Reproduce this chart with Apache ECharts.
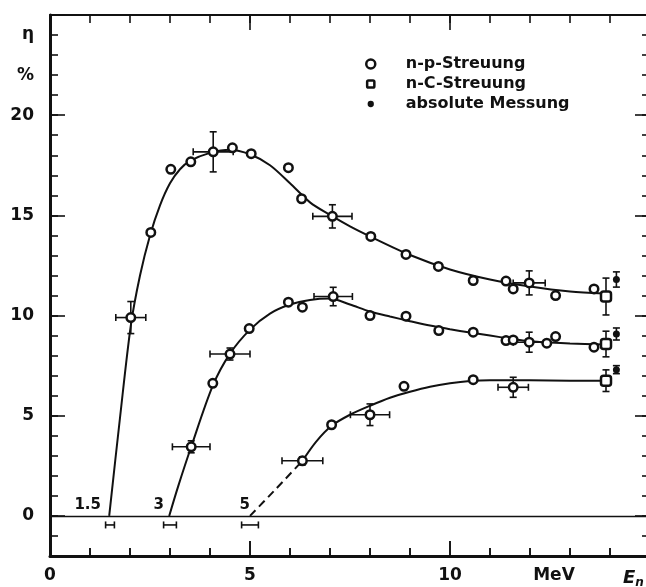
<!DOCTYPE html>
<html><head><meta charset="utf-8">
<script src="https://cdn.jsdelivr.net/npm/echarts@6/dist/echarts.min.js"></script>
<style>html,body{margin:0;padding:0;background:#fff}#c{width:646px;height:587px}</style>
</head><body><div id="c"></div>
<script>
// ---------- data ----------
// points: [E (MeV), eta (%), xErr, yErr]
const npUpper = [[2.02,9.9,0.375,0.8],[2.52,14.15,0,0],[3.02,17.3,0,0],[3.52,17.67,0,0],[4.08,18.17,0.5,1.0],[4.56,18.37,0,0],[5.03,18.08,0,0],[5.96,17.38,0,0],[6.29,15.83,0,0],[7.06,14.95,0.49,0.58],[8.02,13.95,0,0],[8.9,13.05,0,0],[9.71,12.45,0,0],[10.58,11.75,0,0],[11.4,11.72,0,0],[11.58,11.33,0,0],[11.98,11.63,0.4,0.6],[12.64,11.0,0,0],[13.6,11.33,0,0]];
const npMiddle = [[3.53,3.45,0.47,0.3],[4.07,6.62,0,0],[4.5,8.08,0.5,0.3],[4.98,9.35,0,0],[5.96,10.67,0,0],[6.31,10.42,0,0],[7.08,10.95,0.48,0.46],[8.0,10.0,0,0],[8.9,9.97,0,0],[9.72,9.25,0,0],[10.58,9.17,0,0],[11.4,8.75,0,0],[11.58,8.78,0,0],[11.98,8.67,0.4,0.5],[12.42,8.62,0,0],[12.64,8.95,0,0],[13.6,8.42,0,0]];
const npLower = [[6.31,2.75,0.51,0.2],[7.04,4.55,0,0],[8.0,5.05,0.49,0.54],[8.85,6.47,0,0],[10.58,6.8,0,0],[11.58,6.42,0.38,0.5]];
const nCPoints = [[13.9,10.95,0,0.92],[13.9,8.58,0,0.64],[13.9,6.75,0,0.54]];
const absPoints = [[14.16,11.8,0,0.38],[14.16,9.08,0,0.3],[14.16,7.3,0,0.2]];

// fitted curves
const curveUpper = [[1.48,0],[1.75,4.9],[2.02,9.5],[2.25,12.0],[2.5,14.0],[2.75,15.5],[3.0,16.6],[3.25,17.3],[3.5,17.72],[4.0,18.12],[4.5,18.28],[5.0,18.05],[5.5,17.5],[6.0,16.6],[6.5,15.65],[7.0,15.02],[7.5,14.45],[8.0,13.95],[9.0,13.02],[10.0,12.3],[11.0,11.8],[12.0,11.45],[13.0,11.2],[13.85,11.1]];
const curveMiddle = [[2.98,0],[3.2,1.45],[3.53,3.45],[4.07,6.5],[4.5,8.1],[5.0,9.3],[5.5,10.1],[6.0,10.55],[6.5,10.78],[7.0,10.85],[7.5,10.55],[8.0,10.2],[8.5,9.95],[9.0,9.72],[9.5,9.5],[10.0,9.32],[10.5,9.15],[11.0,9.0],[11.5,8.85],[12.0,8.72],[12.5,8.65],[13.0,8.6],[13.85,8.55]];
const curveLowerDashed = [[5.0,0],[5.65,1.35],[6.31,2.75]];
const curveLower = [[6.31,2.75],[6.65,3.7],[7.04,4.5],[7.5,5.05],[8.0,5.5],[8.5,5.9],[9.0,6.2],[9.5,6.45],[10.0,6.62],[10.5,6.73],[11.0,6.77],[12.0,6.77],[13.0,6.75],[13.85,6.75]];

// thresholds
const thresholds = [1.5, 3, 5];
const thresholdErr = [0.11, 0.16, 0.21];
const thresholdLabels = ['1.5', '3', '5'];
const thresholdBarY = -0.45;

// ticks / labels
const xLabelValues = [0, 5, 10, 12.6];
const xTickLabels = ['0', '5', '10', 'MeV'];
const xMajorTicks = [0, 5, 10, 15];
const xMinorTicks = [1, 2, 3, 4, 6, 7, 8, 9, 11, 12, 13, 14];
const yLabelValues = [0, 5, 10, 15, 20, 22, 24];
const yTickLabels = ['0', '5', '10', '15', '20', '%', 'η'];
const yMajorTicks = [0, 5, 10, 15, 20, 25];
const yMin = -2, yMax = 25, xMin = 0, xMax = 15;

// ---------- styling ----------
const INK = '#111';
const FONT = 'DejaVu Sans';
const thresholdLabelDx = [-9, -6, 0];
const MAJOR_LEN = 15, MINOR_LEN = 8;

function errRender(params, api) {
  const x = api.value(0), y = api.value(1), ex = api.value(2), ey = api.value(3);
  const cap = 3.5;
  const st = {stroke: INK, lineWidth: 1.6};
  const ch = [];
  if (ex > 0) {
    const a = api.coord([x - ex, y]), b = api.coord([x + ex, y]);
    ch.push({type: 'line', shape: {x1: a[0], y1: a[1], x2: b[0], y2: b[1]}, style: st});
    ch.push({type: 'line', shape: {x1: a[0], y1: a[1] - cap, x2: a[0], y2: a[1] + cap}, style: st});
    ch.push({type: 'line', shape: {x1: b[0], y1: b[1] - cap, x2: b[0], y2: b[1] + cap}, style: st});
  }
  if (ey > 0) {
    const a = api.coord([x, y + ey]), b = api.coord([x, y - ey]);
    ch.push({type: 'line', shape: {x1: a[0], y1: a[1], x2: b[0], y2: b[1]}, style: st});
    ch.push({type: 'line', shape: {x1: a[0] - cap, y1: a[1], x2: a[0] + cap, y2: a[1]}, style: st});
    ch.push({type: 'line', shape: {x1: b[0] - cap, y1: b[1], x2: b[0] + cap, y2: b[1]}, style: st});
  }
  return {type: 'group', children: ch};
}

// bottom-axis tick marks, placed through the x scale at the axis minimum
function bottomTickRender(params, api) {
  const v = api.value(0);
  const len = xMajorTicks.indexOf(v) >= 0 ? MAJOR_LEN : MINOR_LEN;
  const p = api.coord([v, yMin]);
  return {type: 'line', shape: {x1: p[0], y1: p[1], x2: p[0], y2: p[1] - len}, style: {stroke: INK, lineWidth: 1.6}};
}

const allNP = npUpper.concat(npMiddle, npLower);
const errData = allNP.concat(nCPoints, absPoints)
  .concat(thresholds.map((t, i) => [t, thresholdBarY, thresholdErr[i], 0]));
const bottomTickData = xMajorTicks.concat(xMinorTicks).map(v => [v, yMin]);
// same tick marks as mark-line segments (length expressed in axis units: 20 px per unit)
const bottomTickSegments = xMajorTicks.map(v => [{coord: [v, yMin]}, {coord: [v, yMin + MAJOR_LEN / 20]}])
  .concat(xMinorTicks.map(v => [{coord: [v, yMin]}, {coord: [v, yMin + MINOR_LEN / 20]}]));

const tickStyle = {color: INK, width: 1.6};
function minorAxis(min, max, pos, lineW, zeroIdx) {
  const ax = {
    type: 'value', min: min, max: max, interval: 1, position: pos,
    splitLine: {show: false},
    axisLine: {show: lineW > 0, onZero: zeroIdx != null, lineStyle: {color: INK, width: lineW || 1}},
    axisTick: {show: true, inside: true, length: MINOR_LEN, lineStyle: tickStyle},
    axisLabel: {show: false}
  };
  if (zeroIdx != null) ax.axisLine.onZeroAxisIndex = zeroIdx;
  return ax;
}
function majorAxis(min, max, pos, ticks, zeroIdx) {
  const ax = {
    type: 'value', min: min, max: max, position: pos,
    splitLine: {show: false},
    axisLine: {show: false, onZero: zeroIdx != null},
    axisTick: {show: true, inside: true, length: MAJOR_LEN, customValues: ticks, lineStyle: tickStyle},
    axisLabel: {show: false}
  };
  if (zeroIdx != null) ax.axisLine.onZeroAxisIndex = zeroIdx;
  return ax;
}
function helperY(min, max) {
  return {type: 'value', min: min, max: max, show: false, splitLine: {show: false}};
}

const labelFont = {fontFamily: FONT, fontWeight: 'bold', fontSize: 17, color: INK};

const xBottom = {
  type: 'value', min: xMin, max: xMax, interval: 5, position: 'bottom',
  splitLine: {show: false},
  axisLine: {show: true, onZero: false, lineStyle: {color: INK, width: 3}},
  axisTick: {show: false},
  axisLabel: {
    show: true, margin: 11, customValues: xLabelValues,
    formatter: v => xTickLabels[xLabelValues.indexOf(v)] || '',
    ...labelFont
  },
  name: '{e|E}{n|n}',
  nameLocation: 'end',
  nameGap: -27,
  nameTextStyle: {
    align: 'left', verticalAlign: 'top', padding: [11, 0, 0, 0],
    rich: {
      e: {fontFamily: FONT, fontStyle: 'italic', fontWeight: 'bold', fontSize: 18, color: INK},
      n: {fontFamily: FONT, fontStyle: 'italic', fontWeight: 'bold', fontSize: 12, color: INK, padding: [10, 0, 0, 0]}
    }
  }
};

const yLeft = minorAxis(yMin, yMax, 'left', 3);
yLeft.axisLabel = {
  show: true, margin: 16, customValues: yLabelValues,
  formatter: v => yTickLabels[yLabelValues.indexOf(v)] || '',
  ...labelFont
};

const option = {
  backgroundColor: '#fff',
  animation: false,
  grid: {left: 50, top: 15, width: 600, height: 541, containLabel: false, outerBoundsMode: 'none'},
  legend: {
    orient: 'vertical', left: 360, top: 51,
    itemWidth: 60, itemHeight: 9, itemGap: 4,
    selectedMode: false,
    textStyle: {fontFamily: FONT, fontWeight: 'bold', fontSize: 16, color: INK},
    data: [
      {name: 'n-p-Streuung', icon: 'circle', itemStyle: {color: '#fff', borderColor: INK, borderWidth: 2.5}},
      {name: 'n-C-Streuung', icon: 'path://M0,0M10,10M1,2.5A1.5,1.5,0,0,1,2.5,1H7.5A1.5,1.5,0,0,1,9,2.5V7.5A1.5,1.5,0,0,1,7.5,9H2.5A1.5,1.5,0,0,1,1,7.5Z', itemStyle: {color: '#fff', borderColor: INK, borderWidth: 2.5}},
      {name: 'absolute Messung', icon: 'path://M0,0M10,10M5,1.5A3.5,3.5,0,1,1,5,8.5A3.5,3.5,0,1,1,5,1.5Z', itemStyle: {color: INK, borderWidth: 0}}
    ]
  },
  xAxis: [
    xBottom,
    minorAxis(xMin, xMax, 'top', 2, 5),
    majorAxis(xMin, xMax, 'top', xMajorTicks, 5)
  ],
  yAxis: [
    yLeft,
    majorAxis(yMin, yMax, 'left', yMajorTicks),
    minorAxis(yMin, yMax, 'right', 0),
    majorAxis(yMin, yMax, 'right', yMajorTicks),
    helperY(0, 27),
    helperY(-27, 0)
  ],
  series: [
    {type: 'custom', data: bottomTickData, renderItem: bottomTickRender, encode: {x: 0, y: 1}, z: 2, clip: false},
    {
      type: 'line', name: 'curveUpper', data: curveUpper, smooth: 0.3, symbol: 'none', z: 2,
      lineStyle: {color: INK, width: 2},
      markLine: {silent: true, symbol: 'none', label: {show: false}, lineStyle: {color: INK, width: 1.3, type: 'solid'}, data: [{yAxis: 0}]}
    },
    {type: 'line', name: 'curveMiddle', data: curveMiddle, smooth: 0.3, symbol: 'none', z: 2, lineStyle: {color: INK, width: 2}},
    {type: 'line', name: 'curveLower', data: curveLower, smooth: 0.3, symbol: 'none', z: 2, lineStyle: {color: INK, width: 2}},
    {
      type: 'line', name: 'curveLowerDashed', data: curveLowerDashed, smooth: 0.2, symbol: 'none', z: 2,
      lineStyle: {color: INK, width: 2, type: [8, 5]},
      markLine: {symbol: 'none', label: {show: false}, lineStyle: {color: INK, width: 1.6, type: 'solid'}, data: bottomTickSegments}
    },
    {type: 'custom', name: 'errors', data: errData, renderItem: errRender, encode: {x: 0, y: 1}, z: 3, silent: true},
    {
      type: 'scatter', name: 'n-p-Streuung', data: allNP.map(p => [p[0], p[1]]), z: 4,
      symbol: 'circle', symbolSize: 8.5,
      itemStyle: {color: '#fff', borderColor: INK, borderWidth: 2.5, opacity: 1}
    },
    {
      type: 'scatter', name: 'n-C-Streuung', data: nCPoints.map(p => [p[0], p[1]]), z: 4,
      symbol: 'roundRect', symbolSize: 10,
      itemStyle: {color: '#fff', borderColor: INK, borderWidth: 2.5, opacity: 1}
    },
    {
      type: 'scatter', name: 'absolute Messung', data: absPoints.map(p => [p[0], p[1]]), z: 4,
      symbol: 'circle', symbolSize: 7,
      itemStyle: {color: INK, opacity: 1}
    },
    {
      type: 'scatter', name: 'thresholdLabels', z: 5, symbolSize: 0, silent: true,
      itemStyle: {opacity: 1},
      data: thresholds.map((t, i) => ({
        value: [t, 0],
        label: {show: true, formatter: thresholdLabels[i], position: 'inside', align: 'right', verticalAlign: 'bottom', offset: [thresholdLabelDx[i], -3],
          fontFamily: FONT, fontWeight: 'bold', fontSize: 15, color: INK, opacity: 1}
      }))
    }
  ]
};

const chart = echarts.init(document.getElementById('c'), null, {renderer: 'canvas'});
chart.setOption(option);
</script></body></html>
